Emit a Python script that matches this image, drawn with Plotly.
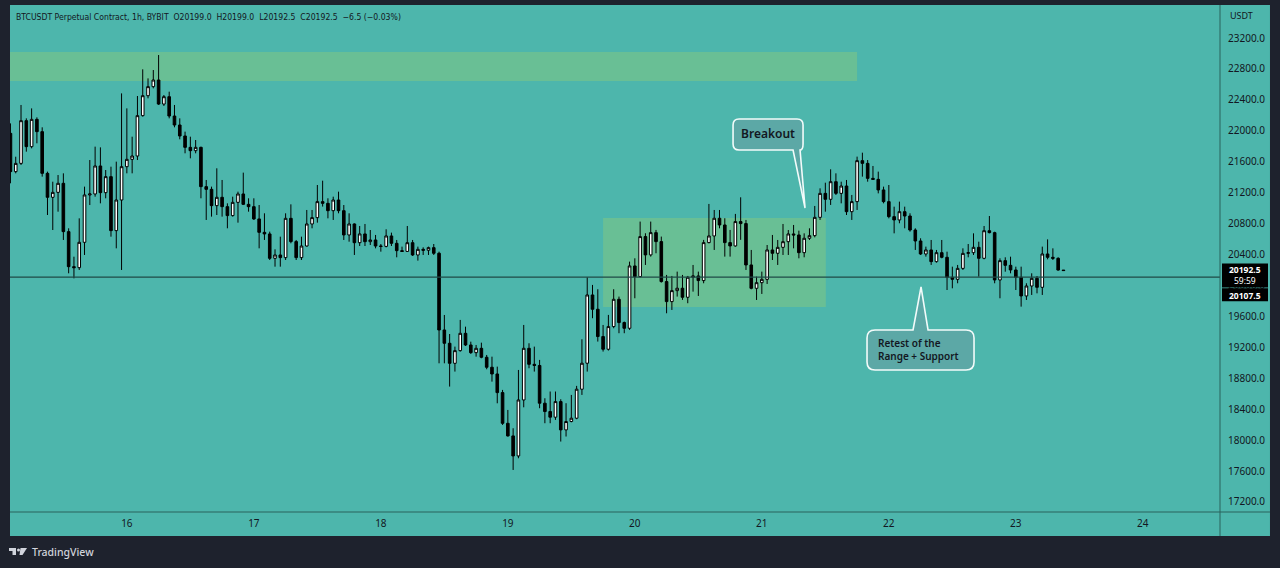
import pandas as pd
import plotly.graph_objects as go

# BTCUSDT perpetual, 1h candles
opens = [
    21967, 21472, 21579, 22131, 21795, 22148, 21989, 21450, 21140, 21204,
    21321, 20696, 20243, 20230, 20558, 21170, 21183, 21545, 21200, 21407,
    20709, 21105, 21536, 21631, 21674, 22196, 22454, 22571, 22657, 22346,
    22441, 22191, 22075, 21933, 21786, 21743, 21786, 21278, 21243, 21032,
    21140, 21019, 20903, 21075, 21183, 21049, 21019, 20860, 20687, 20666,
    20351, 20394, 20360, 20868, 20567, 20360, 20510, 20795, 20877, 21084,
    21062, 20967, 21105, 20967, 20653, 20795, 20553, 20666, 20566, 20588,
    20510, 20505, 20640, 20545, 20450, 20440, 20553, 20394, 20467, 20455,
    20489, 20416, 19424, 19252, 18993, 19157, 19381, 19230, 19131, 19187,
    19071, 18942, 18855, 18614, 18217, 18054, 17795, 18519, 19187, 18980,
    18965, 18477, 18369, 18296, 18498, 18132, 18240, 18283, 18658, 18994,
    19877, 19692, 19339, 19175, 19468, 19821, 19520, 19446, 20252, 20114,
    20632, 20395, 20683, 20567, 20050, 19791, 19933, 19964, 19847, 20106,
    20123, 20063, 20554, 20640, 20869, 20782, 20554, 20511, 20826, 20800,
    20265, 19963, 20036, 20079, 20459, 20416, 20493, 20566, 20666, 20653,
    20424, 20610, 20644, 20881, 21191, 21114, 21342, 21191, 21286, 20954,
    21084, 21614, 21579, 21385, 21372, 21235, 21084, 20890, 20847, 20954,
    20898, 20717, 20575, 20407, 20459, 20308, 20424, 20364, 20105, 20079,
    20221, 20415, 20424, 20493, 20351, 20708, 20683, 20071, 20321, 20260,
    20200, 20105, 19864, 19993, 20092, 19976, 20407, 20364, 20351, 20199,
]
highs = [
    22096, 21665, 22334, 22161, 22290, 22174, 22045, 21472, 21342, 21428,
    21450, 20739, 20372, 20868, 21278, 21622, 21795, 21786, 21493, 21536,
    21601, 22484, 22290, 21924, 22450, 22795, 22678, 22786, 22980, 22463,
    22506, 22334, 22161, 21989, 21924, 21881, 21795, 21364, 21278, 21515,
    21364, 21062, 21148, 21213, 21459, 21127, 21127, 21040, 20933, 20696,
    20467, 20631, 20933, 21049, 20588, 20631, 20976, 20976, 21299, 21355,
    21127, 21148, 21213, 21040, 20933, 20803, 20769, 20795, 20717, 20653,
    20536, 20726, 20683, 20588, 20502, 20769, 20588, 20502, 20493, 20502,
    20536, 20437, 19618, 19372, 19209, 19554, 19467, 19273, 19230, 19260,
    19101, 19079, 18950, 18649, 18390, 18153, 18907, 19489, 19252, 19209,
    19037, 18541, 18628, 18628, 18528, 18477, 18584, 18701, 19304, 20106,
    20007, 19951, 19489, 19619, 19951, 19856, 19533, 20308, 20351, 20826,
    20675, 20826, 20718, 20632, 20136, 20123, 20179, 20136, 20123, 20265,
    20179, 20589, 21054, 20976, 20976, 20869, 20718, 20925, 21140, 20847,
    20459, 20114, 20179, 20523, 20653, 20588, 20795, 20717, 20782, 20709,
    20674, 20739, 21028, 21256, 21329, 21502, 21450, 21342, 21364, 21170,
    21666, 21717, 21622, 21545, 21472, 21278, 21299, 21019, 21084, 21019,
    20933, 20739, 20610, 20502, 20588, 20459, 20588, 20437, 20243, 20265,
    20480, 20536, 20674, 20566, 20769, 20898, 20695, 20351, 20364, 20372,
    20243, 20243, 20028, 20157, 20122, 20502, 20596, 20480, 20364, 20199,
]
lows = [
    21321, 21450, 21558, 21730, 21773, 21838, 21407, 20911, 20717, 20954,
    20588, 20157, 20092, 20200, 20394, 21040, 21148, 21062, 21127, 20631,
    20480, 20200, 21450, 21450, 21622, 22183, 22420, 22549, 22334, 22321,
    22161, 22045, 21890, 21709, 21644, 21709, 21127, 20847, 20890, 20911,
    20890, 20739, 20890, 20812, 21040, 20954, 20847, 20480, 20588, 20329,
    20243, 20243, 20329, 20545, 20329, 20329, 20502, 20739, 20812, 21020,
    20868, 20847, 20933, 20588, 20566, 20394, 20510, 20510, 20523, 20480,
    20437, 20493, 20510, 20364, 20437, 20437, 20381, 20321, 20394, 20394,
    20394, 18993, 18993, 18692, 18886, 19144, 19217, 19114, 19079, 19058,
    18916, 18756, 18476, 18196, 18045, 17614, 17765, 18424, 18929, 18886,
    18412, 18218, 18218, 18261, 17981, 18046, 18230, 18270, 18584, 18886,
    19576, 19274, 19145, 19158, 19446, 19382, 19382, 19425, 19834, 20106,
    20265, 20373, 20416, 20037, 19640, 19683, 19856, 19813, 19770, 19920,
    19864, 20028, 20545, 20459, 20739, 20373, 20373, 20502, 20590, 20200,
    19950, 19812, 19890, 20019, 20329, 20265, 20394, 20394, 20480, 20351,
    20364, 20588, 20622, 20847, 20954, 21041, 21170, 21062, 20911, 20847,
    20976, 21407, 21342, 21364, 21191, 21062, 20868, 20674, 20804, 20739,
    20696, 20459, 20394, 20373, 20265, 20295, 20351, 19941, 19963, 20028,
    20200, 20364, 20394, 20114, 20338, 20674, 20028, 19834, 20178, 20157,
    19941, 19726, 19812, 19877, 19898, 19877, 20338, 20329, 20191, 20192.5,
]
closes = [
    21472, 21579, 22131, 21795, 22148, 21989, 21450, 21140, 21204, 21321,
    20696, 20243, 20230, 20558, 21170, 21183, 21545, 21200, 21407, 20709,
    21105, 21536, 21631, 21674, 22196, 22454, 22571, 22657, 22346, 22441,
    22191, 22075, 21933, 21786, 21743, 21786, 21278, 21243, 21032, 21140,
    21019, 20903, 21075, 21183, 21049, 21019, 20860, 20687, 20666, 20351,
    20394, 20360, 20868, 20567, 20360, 20510, 20795, 20877, 21084, 21062,
    20967, 21105, 20967, 20653, 20795, 20553, 20666, 20566, 20588, 20510,
    20505, 20640, 20545, 20450, 20440, 20553, 20394, 20467, 20455, 20489,
    20416, 19424, 19252, 18993, 19157, 19381, 19230, 19131, 19187, 19071,
    18942, 18855, 18614, 18217, 18054, 17795, 18519, 19187, 18980, 18965,
    18477, 18369, 18296, 18498, 18132, 18240, 18283, 18658, 18994, 19877,
    19692, 19339, 19175, 19468, 19821, 19520, 19446, 20252, 20114, 20632,
    20395, 20683, 20567, 20050, 19791, 19933, 19964, 19847, 20106, 20123,
    20063, 20554, 20640, 20869, 20782, 20554, 20511, 20826, 20800, 20265,
    19963, 20036, 20079, 20459, 20416, 20493, 20566, 20666, 20653, 20424,
    20610, 20644, 20881, 21191, 21114, 21342, 21191, 21286, 20954, 21084,
    21614, 21579, 21385, 21372, 21235, 21084, 20890, 20847, 20954, 20898,
    20717, 20575, 20407, 20459, 20308, 20424, 20364, 20105, 20079, 20221,
    20415, 20424, 20493, 20351, 20708, 20683, 20071, 20321, 20260, 20200,
    20105, 19864, 19993, 20092, 19976, 20407, 20364, 20351, 20199, 20192.5,
]
times = pd.date_range("2022-06-15 02:00", periods=len(closes), freq="h")

price_ticks = list(range(17200, 23201, 400))
last_price = 20192.5
level_price = 20107.5
countdown = "59:59"

# drawn zones (time, price)
supply_zone = ("2022-06-15 00:00", "2022-06-21 18:00", 22644, 23019)
range_zone = ("2022-06-19 18:00", "2022-06-21 12:05", 19721, 20872)
breakout_tip = ("2022-06-21 08:10", 21002)
retest_tip = ("2022-06-22 06:05", 19980)

header = ("BTCUSDT Perpetual Contract, 1h, BYBIT  O20199.0  H20199.0  "
          "L20192.5  C20192.5  \u22126.5 (\u22120.03%)")

TEAL = "#4db6ac"
FRAME = "#1e222d"
INK = "#131722"
ZONE = "rgba(129,199,132,0.55)"
AXLINE = "#2b625d"

fig = go.Figure()
fig.add_trace(go.Candlestick(
    x=times, open=opens, high=highs, low=lows, close=closes,
    increasing=dict(fillcolor="#ffffff", line=dict(color="#000000", width=1)),
    decreasing=dict(fillcolor="#000000", line=dict(color="#000000", width=1)),
    showlegend=False, hoverinfo="skip",
))

shapes = []
# teal panel behind plot + axes
shapes.append(dict(type="rect", xref="paper", yref="paper", x0=0, x1=1.0413,
                   y0=-0.0473, y1=1, fillcolor=TEAL, line_width=0, layer="below"))
for z in (supply_zone, range_zone):
    shapes.append(dict(type="rect", xref="x", yref="y", x0=z[0], x1=z[1],
                       y0=z[2], y1=z[3], fillcolor=ZONE, line_width=0, layer="below"))
# horizontal level
shapes.append(dict(type="line", xref="paper", yref="y", x0=0, x1=1,
                   y0=level_price, y1=level_price, line=dict(color="#1f4a47", width=1.4)))
# axis separators
shapes.append(dict(type="line", xref="paper", yref="paper", x0=1, x1=1,
                   y0=-0.0473, y1=1, line=dict(color=AXLINE, width=1)))
shapes.append(dict(type="line", xref="paper", yref="paper", x0=0, x1=1.0413,
                   y0=0, y1=0, line=dict(color=AXLINE, width=1)))
# black price-tag backgrounds on the price scale (pixel offsets from the price)
tag_bg = dict(type="rect", xref="paper", yref="y", ysizemode="pixel",
              x0=1 + 2 / 1210, x1=1 + 48 / 1210, fillcolor="#000000", line_width=0)
shapes.append(dict(yanchor=last_price, y0=7, y1=-17, **tag_bg))
shapes.append(dict(yanchor=level_price, y0=-11, y1=-24, **tag_bg))

# callouts, pixel paths anchored at the pointer tip
breakout_path = ("M -66 89 L -8 89 Q -2 89 -2 83 L -2 64 Q -2 58 -5 58 "
                 "L 0 0 L -12 58 L -66 58 Q -72 58 -72 64 L -72 83 Q -72 89 -66 89 Z")
retest_path = ("M -46 -43 L -8 -43 L 0 0 L 7 -43 L 45 -43 Q 53 -43 53 -51 "
               "L 53 -75 Q 53 -83 45 -83 L -46 -83 Q -54 -83 -54 -75 L -54 -51 Q -54 -43 -46 -43 Z")
for tip, path in ((breakout_tip, breakout_path), (retest_tip, retest_path)):
    shapes.append(dict(type="path", xref="x", yref="y", xsizemode="pixel", ysizemode="pixel",
                       xanchor=tip[0], yanchor=tip[1], path=path,
                       fillcolor="rgba(120,144,156,0.35)", line=dict(color="#f2fbfa", width=1.6)))

# TradingView logo
logo = dict(xref="paper", yref="paper", xsizemode="pixel", ysizemode="pixel",
            xanchor=0, yanchor=0, fillcolor="#d1d4dc", line_width=0)
shapes.append(dict(type="rect", x0=-1, x1=6, y0=-36, y1=-39, **logo))
shapes.append(dict(type="rect", x0=2.5, x1=6, y0=-36, y1=-43, **logo))
shapes.append(dict(type="circle", x0=7, x1=10, y0=-36.5, y1=-39.5, **logo))
shapes.append(dict(type="path", path="M 10.5 -36 L 17 -36 L 12.5 -43 L 9.5 -43 Z", **logo))


def price_tag(text, anchor, shift):
    return dict(text=text, xref="paper", yref="y", x=1, y=anchor,
                xanchor="center", yanchor="top", xshift=25, yshift=shift, showarrow=False,
                borderpad=0, borderwidth=0,
                font=dict(family="Noto Sans", size=8.5, color="#ffffff"))


annotations = [
    dict(text=header, xref="paper", yref="paper", x=0, y=1, xanchor="left", yanchor="middle",
         xshift=4, yshift=-12, showarrow=False,
         font=dict(family="Liberation Sans Narrow, DejaVu Sans Condensed, sans-serif", size=8.6, color=INK)),
    dict(text="USDT", xref="paper", yref="paper", x=1, y=1, xanchor="left", yanchor="middle",
         xshift=8, yshift=-10, showarrow=False, font=dict(family="Noto Sans", size=9, color=INK)),
    dict(text="Breakout", xref="x", yref="y", x=breakout_tip[0], y=breakout_tip[1],
         xshift=-37, yshift=74, showarrow=False,
         font=dict(family="Noto Sans", size=12, color=INK, weight=600)),
    dict(text="Retest of the<br>Range + Support", xref="x", yref="y", x=retest_tip[0], y=retest_tip[1],
         xanchor="left", align="left", xshift=-45, yshift=-63, showarrow=False,
         font=dict(family="Noto Sans", size=10, color=INK, weight=600)),
    price_tag("<b>%.1f</b><br>%s" % (last_price, countdown), last_price, 6.5),
    price_tag("<b>%.1f</b>" % level_price, level_price, -12.5),
    dict(text="TradingView", xref="paper", yref="paper", x=0, y=0, xanchor="left", yanchor="middle",
         xshift=20, yshift=-40, showarrow=False,
         font=dict(family="Noto Sans", size=10.5, color="#d1d4dc", weight=500)),
]

fig.update_layout(
    width=1280, height=568,
    margin=dict(l=10, r=60, t=5, b=56),
    paper_bgcolor=FRAME, plot_bgcolor=TEAL,
    shapes=shapes, annotations=annotations,
    xaxis=dict(type="date", range=["2022-06-15 01:55", "2022-06-24 14:35"],
               rangeslider=dict(visible=False), showgrid=False, zeroline=False,
               tick0="2022-06-16", dtick=86400000, tickformat="%d", ticks="",
               ticklabelstandoff=4, tickfont=dict(family="Noto Sans", size=10, color=INK)),
    yaxis=dict(side="right", range=[17070, 23627], showgrid=False, zeroline=False,
               tickvals=price_ticks, ticktext=["%d.0" % v for v in price_ticks], ticks="",
               ticklabelstandoff=7, tickfont=dict(family="Noto Sans", size=10, color=INK)),
)

fig.write_html("out.html", config={"displayModeBar": False},
               post_script="document.body.style.margin='0';document.body.style.overflow='hidden';")
